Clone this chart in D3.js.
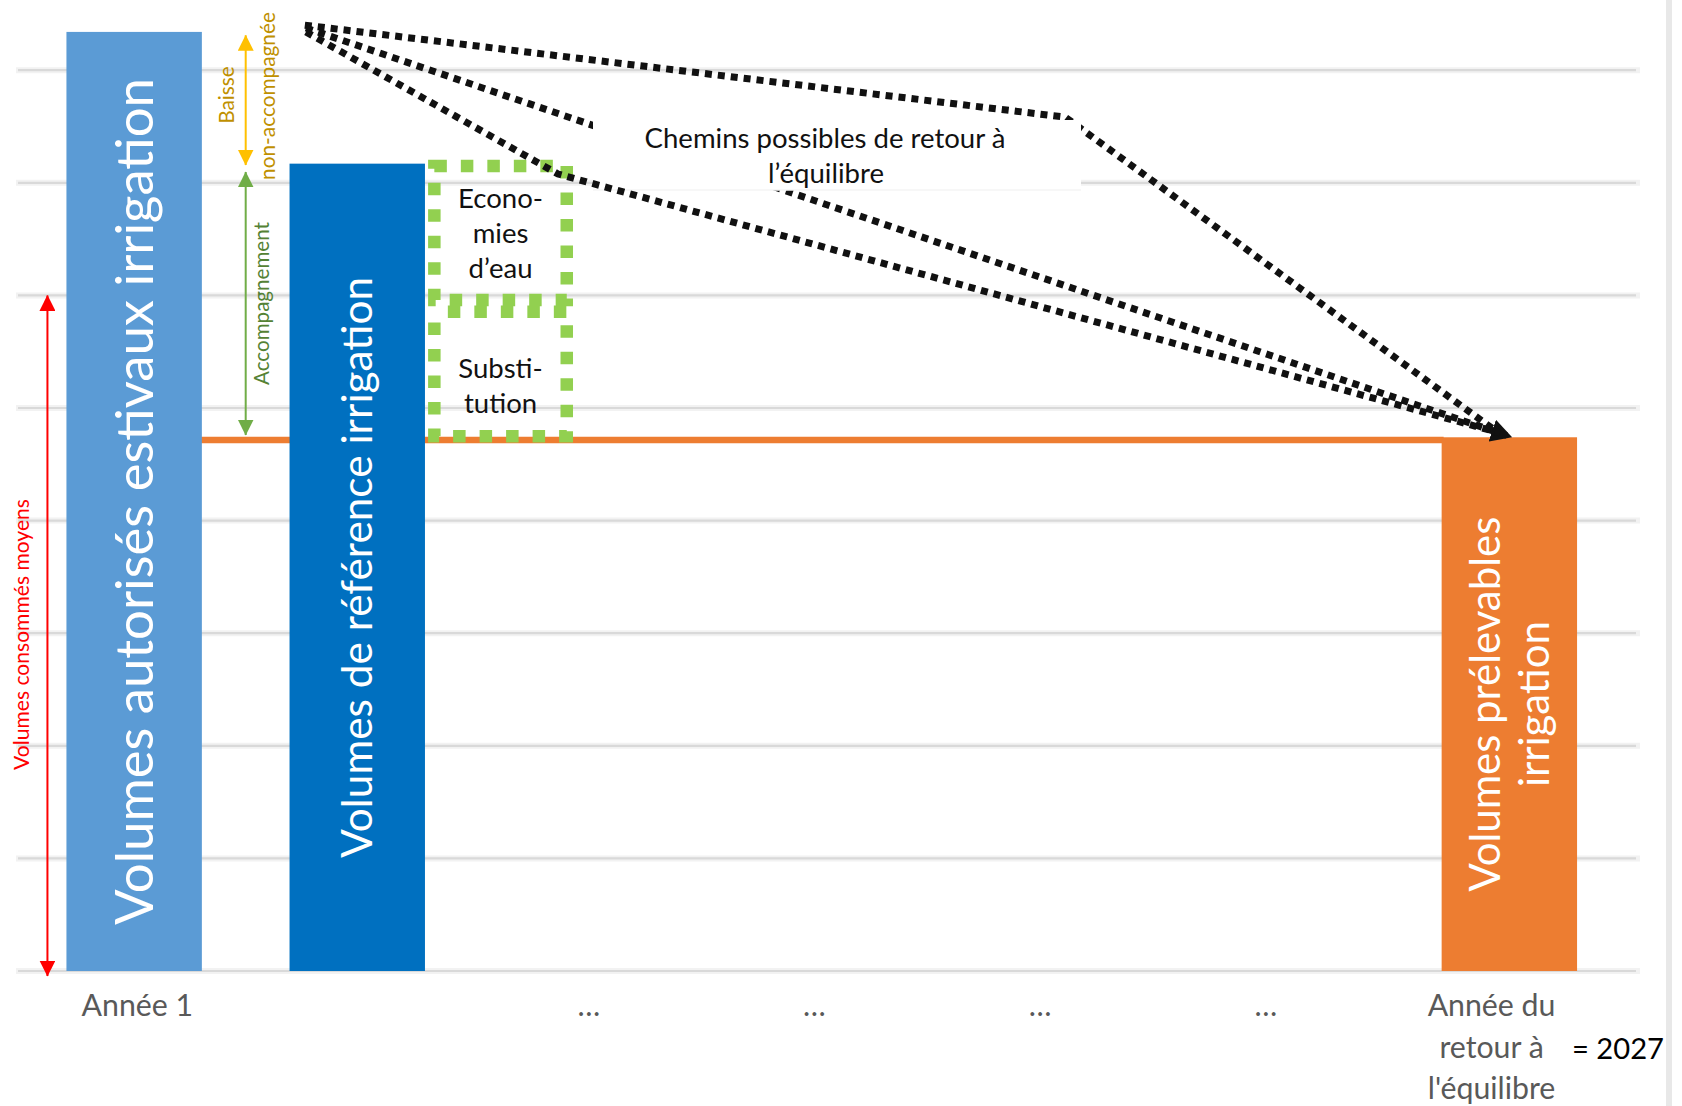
<!DOCTYPE html>
<html>
<head>
<meta charset="utf-8">
<script src="https://cdn.jsdelivr.net/npm/d3@7"></script>
<style>
  html, body { margin: 0; padding: 0; background: #ffffff; }
  svg { display: block; }
  text { font-family: Lato, "Open Sans", "Noto Sans", sans-serif; }
</style>
</head>
<body>
<svg id="chart" width="1682" height="1106"></svg>
<script>
// ---------------- DATA ----------------
const categories = ["Année 1", "", "…", "…", "…", "…", "Année du retour à l'équilibre"];
const tickLabels = [["Année 1"], [], ["…"], ["…"], ["…"], ["…"], ["Année du", "retour à", "l'équilibre"]];
const yearNote = "= 2027";
const gridTicks = [0, 1, 2, 3, 4, 5, 6, 7, 8];

const barNames = ["Volumes autorisés estivaux irrigation", "Volumes de référence irrigation", "Volumes prélevables irrigation"];
const barLines = [["Volumes autorisés estivaux irrigation"], ["Volumes de référence irrigation"], ["Volumes prélevables", "irrigation"]];
const barCategory = [0, 1, 6];
const barValues = [8.34, 7.17, 4.74];

const effortNames = [["Econo-", "mies", "d’eau"], ["Substi-", "tution"]];
const effortCategory = [1, 1];
const effortRanges = [[5.96, 7.15], [4.75, 5.855]];

const equilibriumLevel = 4.715;

const consumedLabel = "Volumes consommés moyens";
const consumedRange = [-0.045, 6.0];
const reductionLabels = [["Baisse", "non-accompagnée"], ["Accompagnement"]];
const reductionRanges = [[7.158, 8.31], [4.76, 7.096]];

const pathLabel = ["Chemins possibles de retour à", "l’équilibre"];
// return paths, in (category position, value) units
const pathways = [
  [[0.742, 8.40], [4.111, 7.583], [6.025, 4.787]],
  [[0.747, 8.375], [6.087, 4.742]],
  [[0.747, 8.34], [1.864, 7.078], [6.038, 4.778]]
];

// ---------------- LAYOUT / STYLE ----------------
const W = 1682, H = 1106;
const svg = d3.select("#chart");
const y = d3.scaleLinear().domain([0, 8]).range([971, 70.2]);
const x = d3.scaleBand().domain(d3.range(categories.length)).range([24.5, 1604.4]).padding(0);
const center = i => x(i) + x.bandwidth() / 2;
const xp = d3.scaleLinear().domain([0, categories.length - 1]).range([center(0), center(categories.length - 1)]);
const barW = x.bandwidth() * 0.6;
const barColors = ["#5b9bd5", "#0070c0", "#ed7d31"];
const barShift = [-3.2, -5.8, 17.8];
const effortShift = 137.5;
const barLeft = k => center(barCategory[k]) + barShift[k] - barW / 2;
const barMid = k => center(barCategory[k]) + barShift[k];

function fit(t, target) {
  const L = t.node().getComputedTextLength();
  const s = +t.attr("font-size") * target / L;
  t.attr("font-size", s);
  return s;
}
function vtext(parent, str, fill, size) {
  const g = parent.append("g");
  const t = g.append("text").attr("text-anchor", "middle").attr("fill", fill)
    .attr("font-size", size || 40).text(str);
  return { g, t, place(bx, cy) { g.attr("transform", `translate(${bx},${cy}) rotate(-90)`); return this; } };
}

// defs
const defs = svg.append("defs");
defs.append("marker").attr("id", "blackHead").attr("markerUnits", "userSpaceOnUse")
  .attr("viewBox", "0 0 21 23").attr("markerWidth", 21).attr("markerHeight", 23)
  .attr("refX", 20).attr("refY", 11.5).attr("orient", "auto")
  .append("path").attr("d", "M0,0 L21,11.5 L0,23 Z").attr("fill", "#111");
[["redHead", "#ff0000"], ["yellowHead", "#ffc000"], ["greenHead", "#70ad47"]].forEach(([id, c]) => {
  defs.append("marker").attr("id", id).attr("markerUnits", "userSpaceOnUse")
    .attr("viewBox", "0 0 16 16").attr("markerWidth", 16).attr("markerHeight", 16)
    .attr("refX", 15.5).attr("refY", 8).attr("orient", "auto-start-reverse")
    .append("path").attr("d", "M0,0 L16,8 L0,16 Z").attr("fill", c);
});

// right frame edge
svg.append("rect").attr("x", 1666).attr("y", 0).attr("width", 6).attr("height", H).attr("fill", "#e8e8e8");

// gridlines
const grid = svg.append("g");
grid.selectAll("line.halo").data(gridTicks).join("line").attr("class", "halo")
  .attr("x1", 16).attr("x2", 1640).attr("y1", d => y(d)).attr("y2", d => y(d))
  .attr("stroke", "#f2f2f2").attr("stroke-width", 6);
grid.selectAll("line.main").data(gridTicks).join("line").attr("class", "main")
  .attr("x1", 18).attr("x2", 1636).attr("y1", d => y(d)).attr("y2", d => y(d))
  .attr("stroke", "#d9d9d9").attr("stroke-width", 2.2);

// equilibrium line
svg.append("line")
  .attr("x1", barMid(0)).attr("x2", barLeft(2) + 2)
  .attr("y1", y(equilibriumLevel)).attr("y2", y(equilibriumLevel))
  .attr("stroke", "#ed7d31").attr("stroke-width", 6.5);

// bars
svg.append("g").selectAll("rect").data(barValues).join("rect")
  .attr("x", (d, k) => barLeft(k)).attr("width", barW)
  .attr("y", d => y(d)).attr("height", d => y(0) - y(d))
  .attr("fill", (d, k) => barColors[k]);

// bar labels (vertical, white)
barLines.forEach((lines, k) => {
  const cy = (y(barValues[k]) + y(0)) / 2;
  const targets = [847, 581, 375];
  const first = vtext(svg, lines[0], "#ffffff");
  const s = fit(first.t, targets[k]);
  const gap = 1.18 * s;
  const n = lines.length;
  lines.forEach((str, j) => {
    const o = j === 0 ? first : vtext(svg, str, "#ffffff", s);
    const bx = barMid(k) + 0.358 * s + (j - (n - 1) / 2) * gap;
    o.place(bx, cy);
  });
});

// effort boxes (dashed green)
const effortG = svg.append("g");
effortRanges.forEach((r, k) => {
  const cxb = center(effortCategory[k]) + effortShift;
  const w = barW - 3;
  effortG.append("rect")
    .attr("x", cxb - w / 2).attr("width", w)
    .attr("y", y(r[1])).attr("height", y(r[0]) - y(r[1]))
    .attr("fill", "none").attr("stroke", "#92d050").attr("stroke-width", 12.5)
    .attr("stroke-dasharray", "12.5,14")
    .attr("stroke-dashoffset", k === 0 ? 0 : 13);
});
let effortSize = null;
effortNames.forEach((lines, k) => {
  const cxb = center(effortCategory[k]) + effortShift;
  const r = effortRanges[k];
  const cy = (y(r[0]) + y(r[1])) / 2 + (k === 0 ? 0 : 11.6);
  const n = lines.length;
  lines.forEach((str, j) => {
    const t = svg.append("text").attr("text-anchor", "middle").attr("fill", "#111")
      .attr("font-size", effortSize || 30).text(str);
    if (effortSize === null) effortSize = fit(t, 85);
    t.attr("x", cxb).attr("y", cy + (j - (n - 1) / 2) * 35 + 0.358 * effortSize);
  });
});

// return-path dotted arrows (first two under the label box, last one above)
const pathLine = d3.line().x(d => xp(d[0])).y(d => y(d[1]));
function drawPath(d, k) {
  svg.append("path").datum(d)
    .attr("d", pathLine).attr("fill", "none").attr("stroke", "#111")
    .attr("stroke-width", 7).attr("stroke-dasharray", "7,6")
    .attr("marker-end", k === 1 ? "url(#blackHead)" : null);
}
drawPath(pathways[0], 0);
drawPath(pathways[1], 1);

// path label with white box
const lblG = svg.append("g");
lblG.append("rect").attr("x", 593).attr("y", 120).attr("width", 488).attr("height", 70).attr("fill", "#ffffff");
lblG.append("line").attr("x1", 593).attr("x2", 1081).attr("y1", 190).attr("y2", 190)
  .attr("stroke", "#f4f4f4").attr("stroke-width", 1.5);
const l1 = lblG.append("text").attr("text-anchor", "middle").attr("fill", "#111").attr("font-size", 28)
  .attr("x", 825).attr("y", 148.3).text(pathLabel[0]);
const ls = fit(l1, 361);
lblG.append("text").attr("text-anchor", "middle").attr("fill", "#111").attr("font-size", ls)
  .attr("x", 826).attr("y", 183.3).text(pathLabel[1]);

drawPath(pathways[2], 2);

// double arrows
const arrowX = (barLeft(0) + barW + barLeft(1)) / 2;
const redX = barLeft(0) - 19;
svg.append("line").attr("x1", redX).attr("x2", redX)
  .attr("y1", y(consumedRange[0])).attr("y2", y(consumedRange[1]))
  .attr("stroke", "#ff0000").attr("stroke-width", 2)
  .attr("marker-start", "url(#redHead)").attr("marker-end", "url(#redHead)");
const arrowCols = [["#ffc000", "yellowHead"], ["#70ad47", "greenHead"]];
reductionRanges.forEach((r, k) => {
  svg.append("line").attr("x1", arrowX).attr("x2", arrowX)
    .attr("y1", y(r[0])).attr("y2", y(r[1]))
    .attr("stroke", arrowCols[k][0]).attr("stroke-width", 2)
    .attr("marker-start", `url(#${arrowCols[k][1]})`).attr("marker-end", `url(#${arrowCols[k][1]})`);
});

// small vertical annotations
const cons = vtext(svg, consumedLabel, "#ff0000", 22);
fit(cons.t, 271);
cons.place(29, 634.5);

const na = vtext(svg, reductionLabels[0][1], "#bf9000", 22);
const naS = fit(na.t, 168);
na.place(arrowX + 29, 96);
vtext(svg, reductionLabels[0][0], "#bf9000", naS).place(arrowX - 11.5, 95);

const acc = vtext(svg, reductionLabels[1][0], "#548235", 22);
fit(acc.t, 163);
acc.place(arrowX + 23, (y(reductionRanges[1][0]) + y(reductionRanges[1][1])) / 2);

// x-axis labels
const axG = svg.append("g");
const probe = axG.append("text").attr("font-size", 30).attr("fill", "#595959").attr("text-anchor", "middle").text(tickLabels[0][0]);
const axS = fit(probe, 111.6);
probe.remove();
const lineBase = [1015.5, 1057.5, 1099];
tickLabels.forEach((lines, i) => {
  lines.forEach((str, j) => {
    axG.append("text").attr("text-anchor", "middle").attr("fill", "#595959")
      .attr("font-size", axS).attr("x", center(i)).attr("y", lineBase[j]).text(str);
  });
});
const note = axG.append("text").attr("fill", "#000").attr("font-size", axS)
  .attr("x", 1572).attr("y", 1059).text(yearNote);
fit(note, 92);
</script>
</body>
</html>
